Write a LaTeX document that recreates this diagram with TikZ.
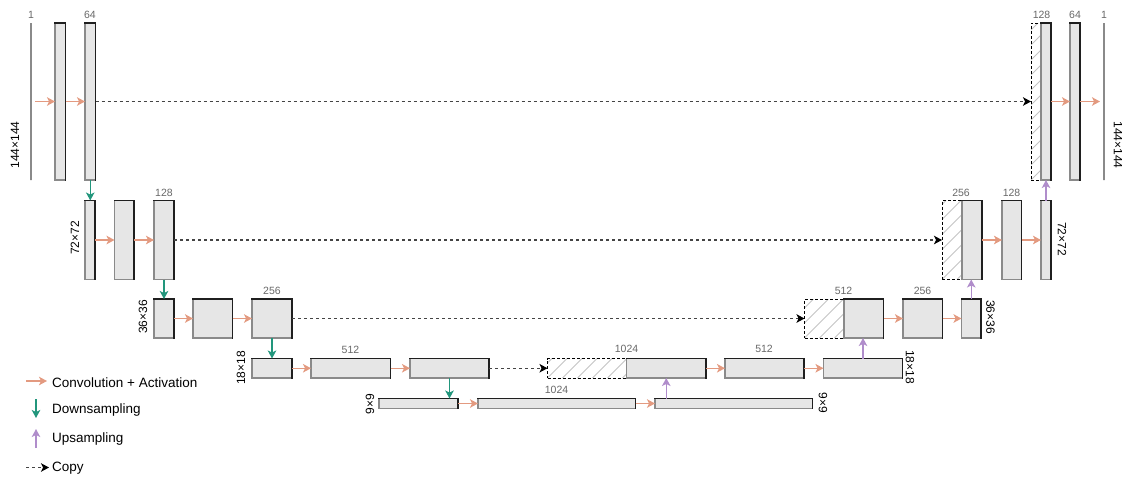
\documentclass[tikz,border=0pt]{standalone}
\usepackage{fontspec}
\setmainfont{Liberation Sans}
\usetikzlibrary{arrows.meta}
\definecolor{boxfill}{HTML}{E6E6E6}
\definecolor{convc}{HTML}{E39A80}
\definecolor{downc}{HTML}{22967C}
\definecolor{upc}{HTML}{B08DCB}
\definecolor{numc}{HTML}{686868}
\definecolor{edgec}{HTML}{8A8A8A}
\definecolor{copyc}{HTML}{444444}
\definecolor{hatchc}{HTML}{C4C4C4}
\tikzset{
  blk/.style={draw=edgec, fill=boxfill, line width=1.2pt, inner sep=0pt, outer sep=0pt, anchor=north west},
  hatchbox/.style={draw=black, line width=1pt, dash pattern=on 3pt off 2pt, inner sep=0pt, outer sep=0pt, anchor=north west},
  hatchline/.style={draw=hatchc, line width=0.9pt},
  inl/.style={draw=edgec, line width=1.5pt, minimum width=0pt, minimum height=157pt, inner sep=0pt, outer sep=0pt, anchor=north},
  tr/.style={draw=black!88, line width=1.1pt, line cap=rect},
  tipA/.style={-{Stealth[length=8pt,width=8.5pt,inset=2pt]}},
  conv/.style={tipA, draw=convc, line width=1.5pt},
  down/.style={tipA, draw=downc, line width=1.4pt},
  up/.style={tipA, draw=upc, line width=1.4pt},
  copy/.style={-{Stealth[length=8pt,width=8.5pt,inset=2pt,color=black]}, draw=copyc, line width=1.2pt, dash pattern=on 3pt off 3pt},
  num/.style={text=numc, font=\fontsize{10.5}{12}\selectfont, inner sep=0pt},
  dim/.style={text=black, font=\fontsize{12}{14}\selectfont, inner sep=0pt},
  leg/.style={text=black, font=\fontsize{13.5}{16}\selectfont, inner sep=0pt, anchor=west},
}
\newcommand\Bx[6]{\node[#1, minimum width=#5pt, minimum height=#6pt] (#2) at (#3,#4) {};}
\newcommand\Hatch[4]{\begin{scope}\clip (#1,#2) rectangle ++(#3,#4);
  \foreach \k in {-165,-150,...,165} \draw[hatchline] ({#1+\k},{#2+#4}) -- ++(#4,-#4);
  \end{scope}}
\begin{document}
\begin{tikzpicture}[x=1pt,y=-1pt]
\useasboundingbox (0,0) rectangle (1129,477);
% hatching of copied halves
\Hatch{1031}{23}{10}{157}
\Hatch{942}{200.5}{20}{79}
\Hatch{804.5}{299}{39.5}{39}
\Hatch{547.5}{358.5}{79}{19.5}
% row 1
\node[inl] (in) at (31,23) {};
\node[inl] (out) at (1104,23) {};
\Bx{blk}{d1a}{55}{23}{10.5}{157}
\Bx{blk}{d1b}{85}{23}{10.5}{157}
\Bx{hatchbox}{u1h}{1031}{23}{10}{157}
\Bx{blk}{u1a}{1041}{23}{10}{157}
\Bx{blk}{u1b}{1070}{23}{10}{157}
% row 2
\Bx{blk}{d2a}{85}{200.5}{10}{79}
\Bx{blk}{d2b}{114.5}{200.5}{19.5}{79}
\Bx{blk}{d2c}{154}{200.5}{20}{79}
\Bx{hatchbox}{u2h}{942}{200.5}{20}{79}
\Bx{blk}{u2a}{962}{200.5}{20}{79}
\Bx{blk}{u2b}{1002}{200.5}{19.5}{79}
\Bx{blk}{u2c}{1041}{200.5}{10}{79}
% row 3
\Bx{blk}{d3a}{154}{299}{20}{39}
\Bx{blk}{d3b}{193}{299}{39.5}{39}
\Bx{blk}{d3c}{252}{299}{40}{39}
\Bx{hatchbox}{u3h}{804.5}{299}{39.5}{39}
\Bx{blk}{u3a}{844}{299}{39.5}{39}
\Bx{blk}{u3b}{903}{299}{39.5}{39}
\Bx{blk}{u3c}{961.5}{299}{19.5}{39}
% row 4
\Bx{blk}{d4a}{252}{358.5}{40}{19.5}
\Bx{blk}{d4b}{311}{358.5}{79.5}{19.5}
\Bx{blk}{d4c}{410}{358.5}{79}{19.5}
\Bx{hatchbox}{u4h}{547.5}{358.5}{79}{19.5}
\Bx{blk}{u4a}{626.5}{358.5}{79.5}{19.5}
\Bx{blk}{u4b}{725}{358.5}{79}{19.5}
\Bx{blk}{u4c}{823.5}{358.5}{79}{19.5}
% row 5
\Bx{blk}{b5a}{379}{398.5}{79}{10}
\Bx{blk}{b5b}{478}{398.5}{157.5}{10}
\Bx{blk}{b5c}{655}{398.5}{157.5}{10}
% dark top and right edges
\foreach \n in {d1a,d1b,u1a,u1b,d2a,d2b,d2c,u2a,u2b,u2c,d3a,d3b,d3c,u3a,u3b,u3c,d4a,d4b,d4c,u4a,u4b,u4c,b5a,b5b,b5c}
  \draw[tr] (\n.south east) |- (\n.north west);
% convolution arrows
\draw[conv, shorten <=4pt] (in) -- (d1a);
\draw[conv] (d1a) -- (d1b);
\draw[conv] (u1a) -- (u1b);
\draw[conv, shorten >=4pt] (u1b) -- (out);
\draw[conv] (d2a) -- (d2b);
\draw[conv] (d2b) -- (d2c);
\draw[conv] (u2a) -- (u2b);
\draw[conv] (u2b) -- (u2c);
\draw[conv] (d3a) -- (d3b);
\draw[conv] (d3b) -- (d3c);
\draw[conv] (u3a) -- (u3b);
\draw[conv] (u3b) -- (u3c);
\draw[conv] (d4a) -- (d4b);
\draw[conv] (d4b) -- (d4c);
\draw[conv] (u4a) -- (u4b);
\draw[conv] (u4b) -- (u4c);
\draw[conv] (b5a) -- (b5b);
\draw[conv] (b5b) -- (b5c);
% copy arrows
\draw[copy] (d1b) -- (u1h);
\draw[copy] (d2c) -- (u2h);
\draw[copy] (d3c) -- (u3h);
\draw[copy] (d4c) -- (u4h);
% downsampling
\draw[down] (d1b.south) -- (d1b.south |- d2a.north);
\draw[down] (d2c.south) -- (d2c.south |- d3a.north);
\draw[down] (d3c.south) -- (d3c.south |- d4a.north);
\draw[down] (d4c.south) -- (d4c.south |- b5a.north);
% upsampling
\draw[up] (u4a.south |- b5c.north) -- (u4a.south);
\draw[up] (u4c.north) -- (u4c.north |- u3a.south);
\draw[up] (u3c.north) -- (u3c.north |- u2a.south);
\draw[up] (u2c.north) -- (u2c.north |- u1a.south);
% channel labels
\node[num] (n1) at (31,15) {1};
\node[num] (n2) at (90,15) {64};
\node[num] (n3) at (1041.5,15) {128};
\node[num] (n4) at (1075,15) {64};
\node[num] (n5) at (1104,15) {1};
\node[num] (n6) at (164,192.5) {128};
\node[num] (n7) at (961,192.5) {256};
\node[num] (n8) at (1011.5,192.5) {128};
\node[num] (n9) at (272,291) {256};
\node[num] (n10) at (843.5,291) {512};
\node[num] (n11) at (922.5,291) {256};
\node[num] (n12) at (350.5,350) {512};
\node[num] (n13) at (626.5,349) {1024};
\node[num] (n14) at (764,349) {512};
\node[num] (n15) at (556.5,390) {1024};
% size labels
\node[dim, rotate=90] (s1) at (15,145) {144×144};
\node[dim, rotate=-90] (s2) at (1118,145) {144×144};
\node[dim, rotate=90] (s3) at (75,238) {72×72};
\node[dim, rotate=-90] (s4) at (1062,239) {72×72};
\node[dim, rotate=90] (s5) at (143,317) {36×36};
\node[dim, rotate=-90] (s6) at (990.5,317) {36×36};
\node[dim, rotate=90] (s7) at (241,368) {18×18};
\node[dim, rotate=-90] (s8) at (910,367) {18×18};
\node[dim, rotate=90] (s9) at (370,404) {9×9};
\node[dim, rotate=-90] (s10) at (823,403) {9×9};
% legend
\coordinate (l1a) at (26,381);
\coordinate (l1b) at (47,381);
\draw[conv] (l1a) -- (l1b);
\node[leg] (t1) at (52,383) {Convolution + Activation};
\coordinate (l2a) at (36,399);
\coordinate (l2b) at (36,418);
\draw[down] (l2a) -- (l2b);
\node[leg] (t2) at (52,410) {Downsampling};
\coordinate (l3a) at (36,448);
\coordinate (l3b) at (36,429);
\draw[up] (l3a) -- (l3b);
\node[leg] (t3) at (52,439) {Upsampling};
\coordinate (l4a) at (26,467.5);
\coordinate (l4b) at (49,467.5);
\draw[copy] (l4a) -- (l4b);
\node[leg] (t4) at (52,468) {Copy};
\end{tikzpicture}
\end{document}
